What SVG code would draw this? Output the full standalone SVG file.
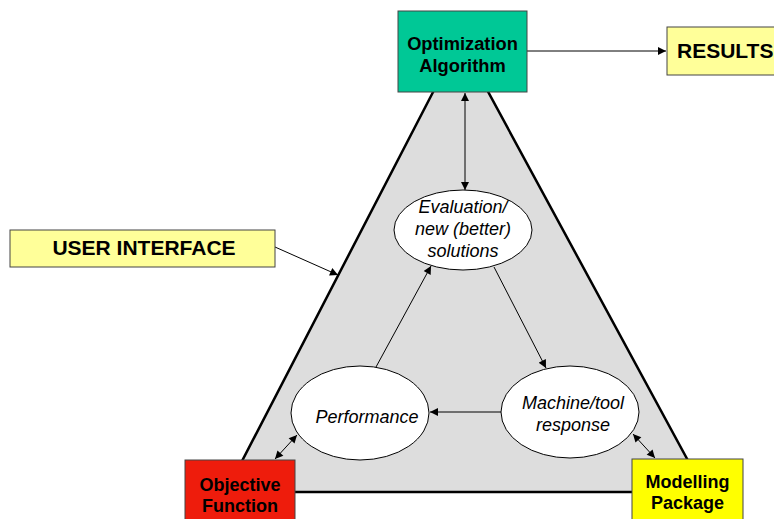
<svg xmlns="http://www.w3.org/2000/svg" width="774" height="519" viewBox="0 0 774 519">
<defs>
<style>
.box{stroke:#444;stroke-width:1}
.bt{font-family:"Liberation Sans",Arial,sans-serif;font-weight:bold;fill:#000;text-anchor:middle}
.it{font-family:"Liberation Sans",Arial,sans-serif;font-style:italic;font-size:18px;fill:#000;text-anchor:middle}
.ell{fill:#fff;stroke:#000;stroke-width:1}
.c{stroke:#000;stroke-width:1;fill:none}
</style>
<marker id="ah" viewBox="0 0 10 10" refX="10" refY="5" markerWidth="9" markerHeight="8" markerUnits="userSpaceOnUse" orient="auto-start-reverse">
<path d="M0,0 L10,5 L0,10 z" fill="#000"/>
</marker>
</defs>
<rect width="774" height="519" fill="#fff"/>
<g id="triangle">
<polygon points="460,40 226,492 705,492" fill="#ddd" stroke="#000" stroke-width="2.5" stroke-linejoin="miter"/>
</g>
<g id="connectors">
<line class="c" x1="527" y1="51" x2="666" y2="51" marker-end="url(#ah)"/>
<line class="c" x1="275" y1="247" x2="338" y2="275" marker-end="url(#ah)"/>
<line class="c" x1="465" y1="93" x2="465" y2="190" marker-start="url(#ah)" marker-end="url(#ah)"/>
<line class="c" x1="376" y1="367" x2="431" y2="266" marker-end="url(#ah)"/>
<line class="c" x1="494" y1="267" x2="546" y2="368" marker-end="url(#ah)"/>
<line class="c" x1="501" y1="412" x2="430" y2="412" marker-end="url(#ah)"/>
<line class="c" x1="275" y1="459" x2="297" y2="435" marker-start="url(#ah)" marker-end="url(#ah)"/>
<line class="c" x1="633" y1="434" x2="655" y2="458" marker-start="url(#ah)" marker-end="url(#ah)"/>
</g>
<g id="optimization">
<rect class="box" x="398" y="11" width="129" height="81" fill="#00C896"/>
<text class="bt" x="462.5" y="50" font-size="18.3">Optimization</text>
<text class="bt" x="462.5" y="72" font-size="18.3">Algorithm</text>
</g>
<g id="results">
<rect class="box" x="667" y="27" width="120" height="48" fill="#FFFF99"/>
<text class="bt" x="677" y="58" font-size="21" style="text-anchor:start">RESULTS</text>
</g>
<g id="user-interface">
<rect class="box" x="10" y="230" width="265" height="37" fill="#FFFF99"/>
<text class="bt" x="144" y="255" font-size="21">USER INTERFACE</text>
</g>
<g id="evaluation">
<ellipse class="ell" cx="463" cy="230" rx="69" ry="40"/>
<text class="it" x="463" y="213">Evaluation/</text>
<text class="it" x="463" y="235">new (better)</text>
<text class="it" x="463" y="257">solutions</text>
</g>
<g id="performance">
<ellipse class="ell" cx="360" cy="413" rx="69" ry="47"/>
<text class="it" x="367" y="423" font-size="18.4">Performance</text>
</g>
<g id="machine">
<ellipse class="ell" cx="570" cy="412" rx="69" ry="46"/>
<text class="it" x="573" y="409">Machine/tool</text>
<text class="it" x="573" y="431">response</text>
</g>
<g id="objective">
<rect class="box" x="185" y="460" width="110" height="70" fill="#EE1C0C"/>
<text class="bt" x="240" y="491" font-size="18">Objective</text>
<text class="bt" x="240" y="512" font-size="18">Function</text>
</g>
<g id="modelling">
<rect class="box" x="632" y="459" width="111" height="70" fill="#FFFF00"/>
<text class="bt" x="687.5" y="488" font-size="18">Modelling</text>
<text class="bt" x="687.5" y="509" font-size="18">Package</text>
</g>
</svg>
